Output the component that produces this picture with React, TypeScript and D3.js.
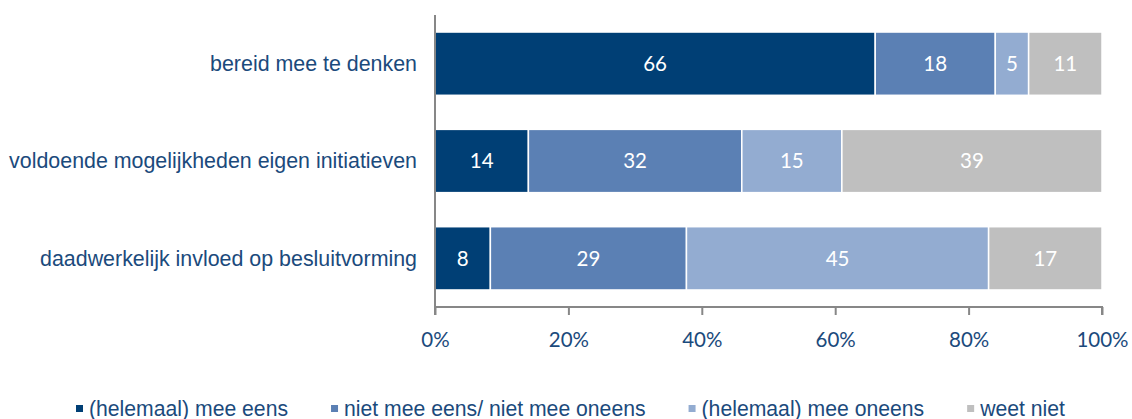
import React, { useEffect, useRef } from 'react';
import * as d3 from 'd3';

const categories = [
  'bereid mee te denken',
  'voldoende mogelijkheden eigen initiatieven',
  'daadwerkelijk invloed op besluitvorming',
];
const seriesNames = [
  '(helemaal) mee eens',
  'niet mee eens/ niet mee oneens',
  '(helemaal) mee oneens',
  'weet niet',
];
const eens = [66, 14, 8.3];
const neutraal = [18, 32, 29.4];
const oneens = [5, 15, 45.3];
const weetNiet = [11, 39, 17];
const tickValues = [0, 20, 40, 60, 80, 100];

const colors = ['#003f75', '#5b80b4', '#93acd1', '#bfbfbf'];
const textColor = '#1b4a7c';

const width = 1132;
const height = 419;
const margin = { top: 15, right: 30, bottom: 112, left: 435 };

const App: React.FC = () => {
  const svgRef = useRef<SVGSVGElement>(null);

  useEffect(() => {
    document.body.style.margin = '0';
    if (!svgRef.current) return;
    const svg = d3.select(svgRef.current);
    svg.selectAll('*').remove();

    const chartWidth = width - margin.left - margin.right;
    const chartHeight = height - margin.top - margin.bottom;

    const series = [eens, neutraal, oneens, weetNiet];
    const rows = categories.map((c, i) => {
      const row: any = { category: c };
      seriesNames.forEach((s, j) => (row[s] = series[j][i]));
      return row;
    });
    const stacked = d3.stack<any>().keys(seriesNames)(rows);

    const x = d3.scaleLinear().domain([0, 100]).range([0, chartWidth]);
    const y = d3.scaleBand<string>()
      .domain(categories)
      .range([0, chartHeight])
      .paddingInner(0.35)
      .paddingOuter(0.175);

    const g = svg.append('g').attr('transform', `translate(${margin.left},${margin.top})`);

    // bars
    stacked.forEach((layer, j) => {
      const lg = g.append('g');
      lg.selectAll('rect')
        .data(layer)
        .enter()
        .append('rect')
        .attr('x', d => x(d[0]))
        .attr('y', d => y(d.data.category)!)
        .attr('width', d => x(d[1]) - x(d[0]))
        .attr('height', y.bandwidth())
        .attr('fill', colors[j])
        .attr('stroke', '#fff')
        .attr('stroke-width', 1.5);
      lg.selectAll('text')
        .data(layer)
        .enter()
        .append('text')
        .attr('x', d => (x(d[0]) + x(d[1])) / 2)
        .attr('y', d => y(d.data.category)! + y.bandwidth() / 2)
        .attr('dy', '0.36em')
        .attr('text-anchor', 'middle')
        .attr('fill', '#fff')
        .style('font-family', 'Lato, "Open Sans", sans-serif')
        .style('font-size', '20.5px')
        .text(d => Math.round(d[1] - d[0]));
    });

    // axes
    const axisColor = '#878787';
    g.append('line')
      .attr('x1', 0).attr('x2', 0)
      .attr('y1', 0).attr('y2', chartHeight)
      .attr('stroke', axisColor).attr('stroke-width', 2);

    const xAxis = g.append('g')
      .attr('transform', `translate(0,${chartHeight})`)
      .call(d3.axisBottom(x).tickValues(tickValues).tickSize(8).tickPadding(17).tickFormat(d => `${d}%`));
    xAxis.select('.domain').attr('stroke', axisColor).attr('stroke-width', 2).attr('d', `M0,8V0H${chartWidth}V8`);
    xAxis.selectAll('.tick line').attr('stroke', axisColor).attr('stroke-width', 2);
    xAxis.selectAll('.tick text')
      .attr('fill', textColor)
      .style('font-family', 'Lato, "Open Sans", sans-serif')
      .style('font-size', '20.5px');

    // category labels
    g.selectAll('.cat')
      .data(categories)
      .enter()
      .append('text')
      .attr('class', 'cat')
      .attr('x', -18)
      .attr('y', d => y(d)! + y.bandwidth() / 2)
      .attr('dy', '0.35em')
      .attr('text-anchor', 'end')
      .attr('fill', textColor)
      .style('font-family', '"Liberation Sans", Arial, sans-serif')
      .style('font-size', '21.4px')
      .text(d => d);

    // legend
    const legend = svg.append('g').attr('transform', `translate(76,${height - 3})`);
    let lx = 0;
    seriesNames.forEach((s, j) => {
      legend.append('rect')
        .attr('x', lx).attr('y', -11)
        .attr('width', 7).attr('height', 7)
        .attr('fill', colors[j]);
      const t = legend.append('text')
        .attr('x', lx + 13)
        .attr('y', 0)
        .attr('fill', textColor)
        .style('font-family', '"Liberation Sans", Arial, sans-serif')
        .style('font-size', '21.2px')
        .text(s);
      const len = (t.node() as SVGTextElement).getComputedTextLength();
      lx += 13 + len + 43;
    });
  }, []);

  return <svg ref={svgRef} width={width} height={height} style={{ display: 'block' }} />;
};

export default App;
